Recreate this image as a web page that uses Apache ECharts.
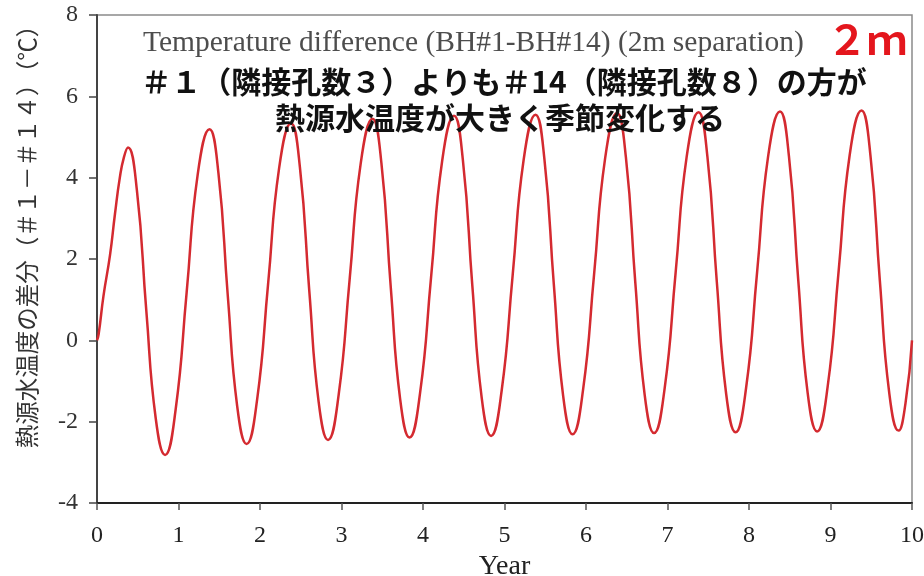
<!DOCTYPE html>
<html>
<head>
<meta charset="utf-8">
<style>
  html, body { margin: 0; padding: 0; background: #ffffff; }
  #chart { width: 924px; height: 576px; }
</style>
<script src="https://cdn.jsdelivr.net/npm/echarts@6/dist/echarts.min.js"></script>
</head>
<body>
<div id="chart"></div>
<script>
// Time since start of operation (years)
const years = [
  0, 0.02, 0.08, 0.16, 0.22, 0.28, 0.33, 0.38,
  0.49, 0.605, 0.72, 0.835, 0.965, 1.10, 1.235, 1.38,
  1.49, 1.605, 1.72, 1.835, 1.965, 2.10, 2.235, 2.38,
  2.49, 2.605, 2.72, 2.835, 2.965, 3.10, 3.235, 3.38,
  3.49, 3.605, 3.72, 3.835, 3.965, 4.10, 4.235, 4.38,
  4.49, 4.605, 4.72, 4.835, 4.965, 5.10, 5.235, 5.38,
  5.49, 5.605, 5.72, 5.835, 5.965, 6.10, 6.235, 6.38,
  6.49, 6.605, 6.72, 6.835, 6.965, 7.10, 7.235, 7.38,
  7.49, 7.605, 7.72, 7.835, 7.965, 8.10, 8.235, 8.38,
  8.49, 8.605, 8.72, 8.835, 8.965, 9.10, 9.235, 9.38,
  9.49, 9.605, 9.72, 9.835, 9.92, 10.0
];

// Source-water temperature difference BH#1 - BH#14 (degC)
const tempDiff = [
  0, 0.15, 1.1, 2.1, 3.1, 4.0, 4.5, 4.74,
  3.68, 0.73, -1.91, -2.82, -1.70, 1.18, 4.07, 5.19,
  4.11, 1.09, -1.62, -2.55, -1.45, 1.40, 4.24, 5.34,
  4.25, 1.21, -1.52, -2.45, -1.34, 1.50, 4.34, 5.45,
  4.35, 1.29, -1.45, -2.39, -1.28, 1.57, 4.41, 5.52,
  4.42, 1.35, -1.41, -2.35, -1.24, 1.60, 4.44, 5.55,
  4.45, 1.38, -1.37, -2.31, -1.20, 1.64, 4.48, 5.59,
  4.49, 1.42, -1.34, -2.28, -1.18, 1.67, 4.51, 5.61,
  4.51, 1.44, -1.32, -2.26, -1.16, 1.69, 4.53, 5.63,
  4.53, 1.46, -1.30, -2.24, -1.14, 1.71, 4.55, 5.65,
  4.55, 1.48, -1.28, -2.22, -1.55, 0.0
];

const xTicks = [0, 1, 2, 3, 4, 5, 6, 7, 8, 9, 10];
const yTicks = [-4, -2, 0, 2, 4, 6, 8];

const chartTitle = 'Temperature difference (BH#1-BH#14) (2m separation)';
const noteLine1 = '＃１（隣接孔数３）よりも＃14（隣接孔数８）の方が';
const noteLine2 = '熱源水温度が大きく季節変化する';
const depthLabel = '２ｍ';
const xName = 'Year';
const yName = '熱源水温度の差分（＃１－＃１４）（℃）';

const seriesData = years.map((t, i) => [t, tempDiff[i]]);

const serif = '"Liberation Serif", "Times New Roman", serif';
const jp = '"Noto Sans CJK JP", "Noto Sans", sans-serif';

const chart = echarts.init(document.getElementById('chart'), null, { renderer: 'canvas' });

chart.setOption({
  animation: false,
  backgroundColor: '#ffffff',
  grid: {
    left: 97, right: 12, top: 15, bottom: 73,
    outerBoundsMode: 'none',
    containLabel: false,
    show: true, borderColor: '#8a8a8a', borderWidth: 1.5, backgroundColor: 'transparent'
  },
  xAxis: {
    type: 'value',
    min: xTicks[0], max: xTicks[xTicks.length - 1], interval: 1,
    name: xName, nameLocation: 'middle', nameGap: 46,
    nameTextStyle: { fontFamily: serif, fontSize: 28, color: '#222' },
    axisLine: { show: true, onZero: false, lineStyle: { color: '#222', width: 2 } },
    axisTick: { show: true, length: 7, lineStyle: { color: '#555', width: 1.5 } },
    axisLabel: { margin: 21, fontFamily: serif, fontSize: 24, color: '#222' },
    splitLine: { show: false }
  },
  yAxis: {
    type: 'value',
    min: yTicks[0], max: yTicks[yTicks.length - 1], interval: 2,
    axisLine: { show: true, onZero: false, lineStyle: { color: '#444', width: 2 } },
    axisTick: { show: true, length: 8, lineStyle: { color: '#444', width: 1.5 } },
    axisLabel: { margin: 19, fontFamily: serif, fontSize: 24, color: '#333' },
    splitLine: { show: false }
  },
  series: [{
    type: 'line',
    data: seriesData,
    smooth: 0.5,
    showSymbol: false,
    lineStyle: { color: '#d42a30', width: 2.5 },
    z: 3
  }],
  graphic: [
    {
      type: 'text', z: 100,
      left: 143, top: 28,
      style: { text: chartTitle, font: '29.5px ' + serif, fill: '#4d4d4d' }
    },
    {
      type: 'text', z: 100,
      x: 867, y: 40,
      style: { text: depthLabel, font: 'bold 40px ' + jp, fill: '#e4161d', align: 'center', verticalAlign: 'middle' }
    },
    {
      type: 'text', z: 100,
      x: 504, y: 82,
      style: { text: noteLine1, font: 'bold 30px ' + jp, fill: '#111', align: 'center', verticalAlign: 'middle' }
    },
    {
      type: 'text', z: 100,
      x: 500, y: 118,
      style: { text: noteLine2, font: 'bold 30px ' + jp, fill: '#111', align: 'center', verticalAlign: 'middle' }
    },
    {
      type: 'text', z: 100,
      x: 27, y: 231, rotation: Math.PI / 2,
      style: { text: yName, font: '23.5px ' + jp, fill: '#333', align: 'center', verticalAlign: 'middle' }
    }
  ]
});
</script>
</body>
</html>
